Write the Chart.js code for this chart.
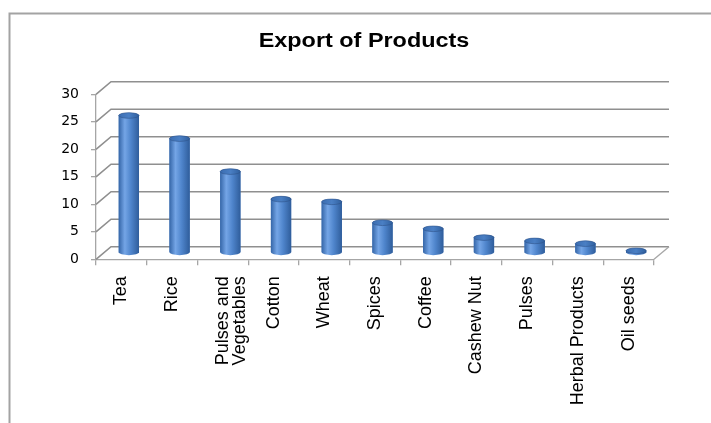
<!DOCTYPE html>
<html>
<head>
<meta charset="utf-8">
<script src="https://cdn.jsdelivr.net/npm/chart.js@4.4.0/dist/chart.umd.min.js"></script>
<style>
html,body{margin:0;padding:0;background:#fff;}
#wrap{width:711px;height:423px;position:relative;}
</style>
</head>
<body>
<div id="wrap"><canvas id="c" width="711" height="423"></canvas></div>
<script>
const categories = ['Tea', 'Rice', ['Pulses and', 'Vegetables'], 'Cotton', 'Wheat', 'Spices', 'Coffee', 'Cashew Nut', 'Pulses', 'Herbal Products', 'Oil seeds'];
const exportValues = [25, 20.8, 14.8, 9.8, 9.3, 5.5, 4.4, 2.8, 2.2, 1.7, 0.4];
const yTickValues = [0, 5, 10, 15, 20, 25, 30];
const chartTitle = 'Export of Products';

const DEPTH_X = 15, DEPTH_Y = -12.6;

function drawCylinder(ctx, x, top, base, w) {
  const rx = w / 2, ry = 2.8;
  const L = x - rx, R = x + rx;
  const g = ctx.createLinearGradient(L, 0, R, 0);
  g.addColorStop(0, '#3566a8');
  g.addColorStop(0.3, '#74a5e6');
  g.addColorStop(0.6, '#4f85cc');
  g.addColorStop(1, '#2f5d9b');
  ctx.beginPath();
  ctx.moveTo(L, top);
  ctx.lineTo(L, base);
  ctx.ellipse(x, base, rx, ry, 0, Math.PI, 0, true);
  ctx.lineTo(R, top);
  ctx.ellipse(x, top, rx, ry, 0, 0, Math.PI, true);
  ctx.closePath();
  ctx.fillStyle = g;
  ctx.fill();
  const g2 = ctx.createLinearGradient(L, top, R, top);
  g2.addColorStop(0, '#3b6db1');
  g2.addColorStop(0.5, '#4a7fc4');
  g2.addColorStop(1, '#30609f');
  ctx.beginPath();
  ctx.ellipse(x, top, rx, ry, 0, 0, Math.PI * 2);
  ctx.fillStyle = g2;
  ctx.fill();
  ctx.lineWidth = 0.8;
  ctx.strokeStyle = 'rgba(45,80,135,0.7)';
  ctx.stroke();
}

const frame3d = {
  id: 'frame3d',
  beforeDraw(chart) {
    const ctx = chart.ctx;
    ctx.save();
    ctx.strokeStyle = '#a3a3a3';
    ctx.lineWidth = 2;
    ctx.beginPath();
    ctx.moveTo(9.5, 423);
    ctx.lineTo(9.5, 13.5);
    ctx.lineTo(711, 13.5);
    ctx.stroke();
    ctx.fillStyle = '#000';
    ctx.font = 'bold 20px "Liberation Sans", Arial, sans-serif';
    ctx.textAlign = 'center';
    ctx.textBaseline = 'alphabetic';
    ctx.translate(364, 46.5);
    ctx.scale(1.17, 1);
    ctx.fillText(chartTitle, 0, 0);
    ctx.restore();
  },
  beforeDatasetsDraw(chart) {
    const ctx = chart.ctx;
    const y = chart.scales.y, x = chart.scales.x;
    const left = x.left, right = x.right;
    ctx.save();
    ctx.strokeStyle = '#8f8f8f';
    ctx.lineWidth = 1.6;
    yTickValues.forEach(v => {
      const py = y.getPixelForValue(v);
      ctx.beginPath();
      ctx.moveTo(left, py);
      ctx.lineTo(left + DEPTH_X, py + DEPTH_Y);
      ctx.lineTo(right + DEPTH_X, py + DEPTH_Y);
      ctx.stroke();
    });
    const p0 = y.getPixelForValue(0);
    ctx.strokeStyle = '#a6a6a6';
    ctx.lineWidth = 1.3;
    ctx.beginPath();
    ctx.moveTo(right, p0);
    ctx.lineTo(right + DEPTH_X, p0 + DEPTH_Y);
    ctx.stroke();
    ctx.restore();
    ctx.save();
    ctx.translate(DEPTH_X / 2, DEPTH_Y / 2);
  },
  afterDatasetsDraw(chart) {
    const ctx = chart.ctx;
    const meta = chart.getDatasetMeta(0);
    meta.data.forEach(el => {
      drawCylinder(ctx, el.x, el.y, el.base, el.width);
    });
    ctx.restore();
  }
};

new Chart(document.getElementById('c'), {
  type: 'bar',
  data: {
    labels: categories,
    datasets: [{
      data: exportValues,
      backgroundColor: '#4a7dc0',
      borderWidth: 0,
      categoryPercentage: 1,
      barPercentage: 0.4,
      clip: false
    }]
  },
  options: {
    responsive: false,
    animation: false,
    devicePixelRatio: 1,
    layout: { padding: { top: 94.3, left: 0, right: 57, bottom: 0 } },
    plugins: { legend: { display: false }, title: { display: false }, tooltip: { enabled: false } },
    scales: {
      x: {
        afterFit: s => { s.height = 423 - 259.3; },
        grid: { offset: true, drawOnChartArea: false, drawTicks: true, tickLength: 6, color: '#a6a6a6', lineWidth: 1.3 },
        border: { display: true, color: '#a6a6a6', width: 1.3 },
        ticks: {
          autoSkip: false, maxRotation: 90, minRotation: 90, padding: 11,
          color: '#000',
          font: { family: '"Liberation Sans", Arial, sans-serif', size: 18, lineHeight: 0.95 }
        }
      },
      y: {
        min: 0, max: 30,
        afterFit: s => { s.width = 96; },
        grid: { drawOnChartArea: false, drawTicks: true, tickLength: 5, color: '#a6a6a6', lineWidth: 1.3 },
        border: { display: true, color: '#a6a6a6', width: 1.3 },
        ticks: {
          stepSize: 5, padding: 12, color: '#000',
          font: { family: '"DejaVu Sans", sans-serif', size: 14 }
        }
      }
    }
  },
  plugins: [frame3d]
});
</script>
</body>
</html>
